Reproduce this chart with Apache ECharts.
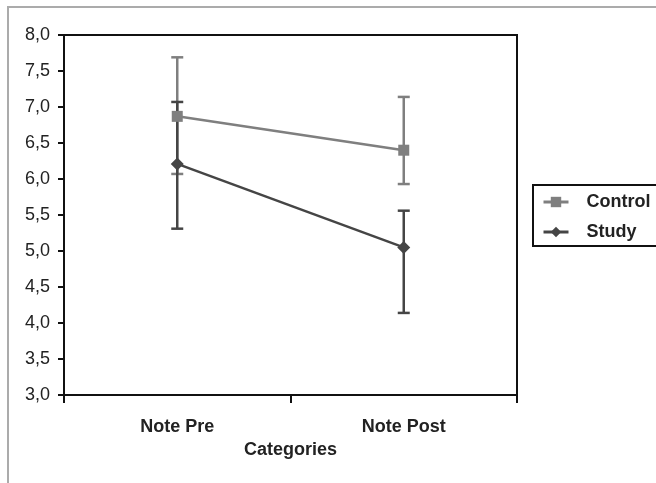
<!DOCTYPE html>
<html><head><meta charset="utf-8">
<script src="https://cdn.jsdelivr.net/npm/echarts@6/dist/echarts.min.js"></script>
<style>html,body{margin:0;padding:0;background:#fff}#c{width:656px;height:483px}</style>
</head><body><div id="c"></div>
<script>
const categories = ['Note Pre', 'Note Post'];
const controlMean = [6.87, 6.40];
const controlLow = [6.07, 5.93];
const controlHigh = [7.69, 7.14];
const studyMean = [6.21, 5.05];
const studyLow = [5.31, 4.14];
const studyHigh = [7.07, 5.56];
const yTicks = { min: 3, max: 8, interval: 0.5 };

const controlColor = '#7f7f7f';
const studyColor = '#454545';
const FONT = 'Liberation Sans, Arial, sans-serif';

function errData(lo, hi) { return categories.map((c, i) => [i, lo[i], hi[i]]); }
function errRender(color) {
  return function (params, api) {
    const x = api.value(0);
    const lo = api.coord([x, api.value(1)]);
    const hi = api.coord([x, api.value(2)]);
    const w = 6;
    const st = { stroke: color, lineWidth: 2.5 };
    return { type: 'group', children: [
      { type: 'line', shape: { x1: lo[0], y1: lo[1], x2: hi[0], y2: hi[1] }, style: st },
      { type: 'line', shape: { x1: lo[0] - w, y1: lo[1], x2: lo[0] + w, y2: lo[1] }, style: st },
      { type: 'line', shape: { x1: hi[0] - w, y1: hi[1], x2: hi[0] + w, y2: hi[1] }, style: st }
    ]};
  };
}

const chart = echarts.init(document.getElementById('c'), null, { renderer: 'canvas' });
chart.setOption({
  animation: false,
  backgroundColor: '#fff',
  graphic: [{ type: 'rect', shape: { x: 8, y: 7, width: 700, height: 500 }, style: { fill: 'none', stroke: '#ababab', lineWidth: 2 }, silent: true }],
  grid: { left: 64, top: 35, width: 453, height: 360, show: true, borderColor: '#111', borderWidth: 2, containLabel: false },
  legend: {
    orient: 'vertical', left: 533, top: 185,
    data: ['Control', 'Study'],
    borderColor: '#111', borderWidth: 2, padding: [8, 12, 5, 9],
    itemWidth: 25, itemHeight: 13, itemGap: 12,
    lineStyle: { width: 3 },
    textStyle: { fontFamily: FONT, fontSize: 18, fontWeight: 'bold', color: '#222', padding: [0, 0, 0, 13] }
  },
  xAxis: {
    type: 'category', data: categories, boundaryGap: true,
    name: 'Categories', nameLocation: 'middle', nameGap: 46,
    nameTextStyle: { fontFamily: FONT, fontSize: 18, fontWeight: 'bold', color: '#222' },
    axisLine: { lineStyle: { color: '#111', width: 2 } },
    axisTick: { show: true, length: 8, lineStyle: { color: '#111', width: 2 } },
    axisLabel: { margin: 23, fontFamily: FONT, fontSize: 18, fontWeight: 'bold', color: '#222' },
    splitLine: { show: false }
  },
  yAxis: {
    type: 'value', min: yTicks.min, max: yTicks.max, interval: yTicks.interval,
    axisLine: { show: true, lineStyle: { color: '#111', width: 2 } },
    axisTick: { show: true, length: 6, lineStyle: { color: '#111', width: 2 } },
    axisLabel: { margin: 14, fontFamily: FONT, fontSize: 18, color: '#222',
      formatter: v => v.toFixed(1).replace('.', ',') },
    splitLine: { show: false }
  },
  series: [
    { name: 'ControlErr', type: 'custom', renderItem: errRender(controlColor), data: errData(controlLow, controlHigh), z: 2, silent: true },
    { name: 'StudyErr', type: 'custom', renderItem: errRender(studyColor), data: errData(studyLow, studyHigh), z: 3, silent: true },
    { name: 'Control', type: 'line', data: controlMean, symbol: 'rect', symbolSize: 11,
      lineStyle: { color: controlColor, width: 2.5 }, itemStyle: { color: controlColor }, z: 4 },
    { name: 'Study', type: 'line', data: studyMean, symbol: 'diamond', symbolSize: 13,
      lineStyle: { color: studyColor, width: 2.5 }, itemStyle: { color: studyColor }, z: 5 }
  ]
});
</script></body></html>
